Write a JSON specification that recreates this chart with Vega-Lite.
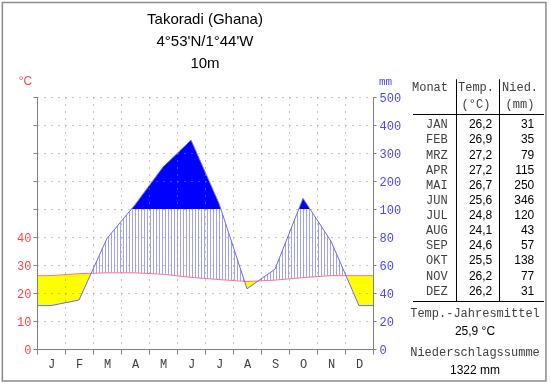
{
 "$schema": "https://vega.github.io/schema/vega-lite/v6.json",
 "width": 336,
 "height": 252,
 "autosize": {"type": "none"},
 "padding": {"left": 37, "top": 97, "right": 177, "bottom": 35},
 "background": "white",
 "title": {"text": ["Takoradi (Ghana)", "4°53'N/1°44'W", "10m"], "font": "Liberation Sans", "fontSize": 15, "fontWeight": "normal", "lineHeight": 22, "anchor": "middle", "frame": "group", "offset": -69, "color": "#000000"},
 "datasets": {
  "clim": [
   {"Monat": "JAN", "m": 1, "t": 26.2, "p": 31},
   {"Monat": "FEB", "m": 2, "t": 26.9, "p": 35},
   {"Monat": "MRZ", "m": 3, "t": 27.2, "p": 79},
   {"Monat": "APR", "m": 4, "t": 27.2, "p": 115},
   {"Monat": "MAI", "m": 5, "t": 26.7, "p": 250},
   {"Monat": "JUN", "m": 6, "t": 25.6, "p": 346},
   {"Monat": "JUL", "m": 7, "t": 24.8, "p": 120},
   {"Monat": "AUG", "m": 8, "t": 24.1, "p": 43},
   {"Monat": "SEP", "m": 9, "t": 24.6, "p": 57},
   {"Monat": "OKT", "m": 10, "t": 25.5, "p": 138},
   {"Monat": "NOV", "m": 11, "t": 26.2, "p": 77},
   {"Monat": "DEZ", "m": 12, "t": 26.2, "p": 31}
  ]
 },
 "data": {"name": "clim"},
 "layer": [
  {
   "layer": [
    {
     "mark": {"type": "area", "fill": "white", "blend": "difference"},
     "encoding": {
      "x": {"field": "m", "type": "quantitative", "scale": {"domain": [0.5, 12.5], "nice": false, "zero": false},
            "axis": {"orient": "bottom", "values": [0.5, 1.5, 2.5, 3.5, 4.5, 5.5, 6.5, 7.5, 8.5, 9.5, 10.5, 11.5, 12.5], "tickCount": 40, "labelExpr": "datum.value < 12 ? ['J','F','M','A','M','J','J','A','S','O','N','D'][floor(datum.value)] : ''", "labelOffset": 14, "labelPadding": 4, "labelColor": "#404040", "labelFlush": false, "labelOverlap": false, "labelBound": false, "ticks": true, "tickSize": 5, "grid": true, "domain": true, "title": null, "zindex": 1}},
      "y": {"field": "t", "type": "quantitative", "scale": {"domain": [0, 90], "range": [252, 0], "nice": false, "zero": false},
            "axis": {"orient": "left", "values": [0, 10, 20, 30, 40, 50, 60, 70, 80, 90], "tickCount": 40, "labelExpr": "datum.value <= 40 ? datum.label : ''", "labelColor": "#ff4848", "tickSize": 4, "labelPadding": 2, "labelFlush": false, "labelOverlap": false, "grid": true, "title": "°C", "titleColor": "#ff4848", "titleFont": "Liberation Sans", "titleFontSize": 12, "titleAngle": 0, "titleX": -12, "titleY": -17, "titleAlign": "center", "titleBaseline": "middle", "zindex": 1}},
      "y2": {"datum": 0}
     }
    },
    {
     "transform": [{"filter": "datum.m == 1"}],
     "mark": {"type": "rect", "fill": "white", "blend": "difference"},
     "encoding": {"x": {"datum": 0.5}, "x2": {"datum": 1}, "y": {"field": "t", "type": "quantitative"}, "y2": {"datum": 0}}
    },
    {
     "transform": [{"filter": "datum.m == 12"}],
     "mark": {"type": "rect", "fill": "white", "blend": "difference"},
     "encoding": {"x": {"datum": 12}, "x2": {"datum": 12.5}, "y": {"field": "t", "type": "quantitative"}, "y2": {"datum": 0}}
    }
   ]
  },
  {
   "layer": [
    {
     "mark": {"type": "area", "fill": "white", "blend": "difference"},
     "encoding": {
      "x": {"field": "m", "type": "quantitative", "scale": {"domain": [0.5, 12.5], "nice": false, "zero": false}, "axis": null},
      "y": {"field": "p", "type": "quantitative", "scale": {"domain": [0, 100, 500], "range": [252, 112, 0], "nice": false, "zero": false},
            "axis": {"orient": "right", "values": [0, 20, 40, 60, 80, 100, 200, 300, 400, 500], "tickCount": 40, "labelColor": "#4848ff", "tickSize": 3, "labelPadding": 3, "labelFlush": false, "labelOverlap": false, "grid": false, "title": "mm", "titleColor": "#4848ff", "titleFont": "Liberation Mono", "titleFontSize": 11, "titleAngle": 0, "titleX": 12, "titleY": -16, "titleAlign": "center", "titleBaseline": "middle", "zindex": 1}},
      "y2": {"datum": 0}
     }
    },
    {
     "transform": [{"filter": "datum.m == 1"}],
     "mark": {"type": "rect", "fill": "white", "blend": "difference"},
     "encoding": {"x": {"datum": 0.5}, "x2": {"datum": 1}, "y": {"field": "p", "type": "quantitative"}, "y2": {"datum": 0}}
    },
    {
     "transform": [{"filter": "datum.m == 12"}],
     "mark": {"type": "rect", "fill": "white", "blend": "difference"},
     "encoding": {"x": {"datum": 12}, "x2": {"datum": 12.5}, "y": {"field": "p", "type": "quantitative"}, "y2": {"datum": 0}}
    },
    {
     "mark": {"type": "area", "fill": "#ffff00", "blend": "screen"},
     "encoding": {"x": {"field": "m", "type": "quantitative"}, "y": {"field": "p", "type": "quantitative"}, "y2": {"datum": 500}}
    },
    {
     "transform": [{"filter": "datum.m == 1"}],
     "mark": {"type": "rect", "fill": "#ffff00", "blend": "screen"},
     "encoding": {"x": {"datum": 0.5}, "x2": {"datum": 1}, "y": {"field": "p", "type": "quantitative"}, "y2": {"datum": 500}}
    },
    {
     "transform": [{"filter": "datum.m == 12"}],
     "mark": {"type": "rect", "fill": "#ffff00", "blend": "screen"},
     "encoding": {"x": {"datum": 12}, "x2": {"datum": 12.5}, "y": {"field": "p", "type": "quantitative"}, "y2": {"datum": 500}}
    },
    {
     "mark": {"type": "area", "fill": "#0000ff", "blend": "screen"},
     "encoding": {"x": {"field": "m", "type": "quantitative"}, "y": {"field": "p", "type": "quantitative"}, "y2": {"datum": 0}}
    },
    {
     "transform": [{"filter": "datum.m == 1"}],
     "mark": {"type": "rect", "fill": "#0000ff", "blend": "screen"},
     "encoding": {"x": {"datum": 0.5}, "x2": {"datum": 1}, "y": {"field": "p", "type": "quantitative"}, "y2": {"datum": 0}}
    },
    {
     "transform": [{"filter": "datum.m == 12"}],
     "mark": {"type": "rect", "fill": "#0000ff", "blend": "screen"},
     "encoding": {"x": {"datum": 12}, "x2": {"datum": 12.5}, "y": {"field": "p", "type": "quantitative"}, "y2": {"datum": 0}}
    },
    {
     "transform": [{"filter": "datum.m == 1"}],
     "mark": {"type": "rect", "fill": "#a0a000", "blend": "screen"},
     "encoding": {"x": {"datum": 0.5}, "x2": {"datum": 12.5}, "y": {"datum": 0}, "y2": {"datum": 100}}
    },
    {
     "transform": [{"filter": "datum.m == 1"}],
     "mark": {"type": "rule", "stroke": "#ffff00", "strokeWidth": 140, "strokeDash": [2, 1], "strokeCap": "butt", "blend": "screen"},
     "encoding": {"x": {"datum": 0.5}, "x2": {"datum": 12.5}, "y": {"datum": 50}}
    }
   ]
  },
  {
   "layer": [
    {
     "mark": {"type": "line", "color": "#ff7878", "strokeWidth": 1},
     "encoding": {
      "x": {"field": "m", "type": "quantitative", "scale": {"domain": [0.5, 12.5], "nice": false, "zero": false}, "axis": null},
      "y": {"field": "t", "type": "quantitative", "scale": {"domain": [0, 90], "range": [252, 0], "nice": false, "zero": false}, "axis": null}
     }
    },
    {
     "transform": [{"filter": "datum.m == 1"}],
     "mark": {"type": "rule", "color": "#ff7878", "strokeWidth": 1},
     "encoding": {"x": {"datum": 0.5}, "x2": {"datum": 1}, "y": {"field": "t", "type": "quantitative"}}
    },
    {
     "transform": [{"filter": "datum.m == 12"}],
     "mark": {"type": "rule", "color": "#ff7878", "strokeWidth": 1},
     "encoding": {"x": {"datum": 12}, "x2": {"datum": 12.5}, "y": {"field": "t", "type": "quantitative"}}
    }
   ]
  },
  {
   "layer": [
    {
     "mark": {"type": "line", "color": "#6868ff", "strokeWidth": 1},
     "encoding": {
      "x": {"field": "m", "type": "quantitative", "scale": {"domain": [0.5, 12.5], "nice": false, "zero": false}, "axis": null},
      "y": {"field": "p", "type": "quantitative", "scale": {"domain": [0, 100, 500], "range": [252, 112, 0], "nice": false, "zero": false}, "axis": null}
     }
    },
    {
     "transform": [{"filter": "datum.m == 1"}],
     "mark": {"type": "rule", "color": "#6868ff", "strokeWidth": 1},
     "encoding": {"x": {"datum": 0.5}, "x2": {"datum": 1}, "y": {"field": "p", "type": "quantitative"}}
    },
    {
     "transform": [{"filter": "datum.m == 12"}],
     "mark": {"type": "rule", "color": "#6868ff", "strokeWidth": 1},
     "encoding": {"x": {"datum": 12}, "x2": {"datum": 12.5}, "y": {"field": "p", "type": "quantitative"}}
    }
   ]
  },
  {
   "layer": [
    {
     "mark": {"type": "text", "align": "right", "baseline": "middle", "font": "Liberation Mono", "fontSize": 12, "color": "#404040"},
     "encoding": {
      "x": {"datum": 0.807, "type": "quantitative", "scale": {"domain": [0, 1, 2, 3], "range": [376, 419, 462, 508], "nice": false, "zero": false}, "axis": null},
      "y": {"field": "m", "type": "quantitative", "scale": {"domain": [1, 12], "range": [27.3, 193.7], "nice": false, "zero": false}, "axis": null},
      "text": {"field": "Monat"}
     }
    },
    {
     "mark": {"type": "text", "align": "right", "baseline": "middle", "font": "Liberation Sans", "fontSize": 12, "color": "#000000"},
     "encoding": {"x": {"datum": 1.844}, "y": {"field": "m", "type": "quantitative"}, "text": {"field": "t", "type": "quantitative", "format": ".1f"}}
    },
    {
     "mark": {"type": "text", "align": "right", "baseline": "middle", "font": "Liberation Sans", "fontSize": 12, "color": "#000000"},
     "encoding": {"x": {"datum": 2.767}, "y": {"field": "m", "type": "quantitative"}, "text": {"field": "p", "type": "quantitative", "format": "d"}}
    },
    {
     "transform": [{"filter": "datum.m == 1"}],
     "mark": {"type": "rule", "color": "#000000", "strokeWidth": 1},
     "encoding": {"x": {"datum": 1.0116}, "y": {"datum": -1.975}, "y2": {"datum": 12.714}}
    },
    {
     "transform": [{"filter": "datum.m == 1"}],
     "mark": {"type": "rule", "color": "#000000", "strokeWidth": 1},
     "encoding": {"x": {"datum": 2.0109}, "y": {"datum": -1.975}, "y2": {"datum": 12.714}}
    },
    {
     "transform": [{"filter": "datum.m == 1"}],
     "mark": {"type": "rule", "color": "#000000", "strokeWidth": 1},
     "encoding": {"x": {"datum": 0}, "x2": {"datum": 2.978}, "y": {"datum": 0.352}}
    },
    {
     "transform": [{"filter": "datum.m == 1"}],
     "mark": {"type": "rule", "color": "#000000", "strokeWidth": 1},
     "encoding": {"x": {"datum": 0}, "x2": {"datum": 2.978}, "y": {"datum": 12.714}}
    },
    {
     "transform": [{"filter": "datum.m == 1"}],
     "mark": {"type": "text", "text": "Monat", "align": "center", "baseline": "middle", "font": "Liberation Mono", "fontSize": 12, "color": "#404040"},
     "encoding": {"x": {"datum": 0.395}, "y": {"datum": -1.433}}
    },
    {
     "transform": [{"filter": "datum.m == 1"}],
     "mark": {"type": "text", "text": "Temp.", "align": "center", "baseline": "middle", "font": "Liberation Mono", "fontSize": 12, "color": "#404040"},
     "encoding": {"x": {"datum": 1.465}, "y": {"datum": -1.433}}
    },
    {
     "transform": [{"filter": "datum.m == 1"}],
     "mark": {"type": "text", "text": "Nied.", "align": "center", "baseline": "middle", "font": "Liberation Mono", "fontSize": 12, "color": "#404040"},
     "encoding": {"x": {"datum": 2.457}, "y": {"datum": -1.433}}
    },
    {
     "transform": [{"filter": "datum.m == 1"}],
     "mark": {"type": "text", "text": "(°C)", "align": "center", "baseline": "middle", "font": "Liberation Mono", "fontSize": 12, "color": "#404040"},
     "encoding": {"x": {"datum": 1.465}, "y": {"datum": -0.342}}
    },
    {
     "transform": [{"filter": "datum.m == 1"}],
     "mark": {"type": "text", "text": "(mm)", "align": "center", "baseline": "middle", "font": "Liberation Mono", "fontSize": 12, "color": "#404040"},
     "encoding": {"x": {"datum": 2.457}, "y": {"datum": -0.342}}
    },
    {
     "transform": [{"filter": "datum.m == 1"}],
     "mark": {"type": "text", "text": "Temp.-Jahresmittel", "align": "center", "baseline": "middle", "font": "Liberation Mono", "fontSize": 12, "color": "#404040"},
     "encoding": {"x": {"datum": 1.442}, "y": {"datum": 13.474}}
    },
    {
     "transform": [{"filter": "datum.m == 1"}],
     "mark": {"type": "text", "text": "25,9 °C", "align": "center", "baseline": "middle", "font": "Liberation Sans", "fontSize": 12, "color": "#000000"},
     "encoding": {"x": {"datum": 1.442}, "y": {"datum": 14.664}}
    },
    {
     "transform": [{"filter": "datum.m == 1"}],
     "mark": {"type": "text", "text": "Niederschlagssumme", "align": "center", "baseline": "middle", "font": "Liberation Mono", "fontSize": 12, "color": "#404040"},
     "encoding": {"x": {"datum": 1.442}, "y": {"datum": 16.085}}
    },
    {
     "transform": [{"filter": "datum.m == 1"}],
     "mark": {"type": "text", "text": "1322 mm", "align": "center", "baseline": "middle", "font": "Liberation Sans", "fontSize": 12, "color": "#000000"},
     "encoding": {"x": {"datum": 1.442}, "y": {"datum": 17.275}}
    },
    {
     "transform": [{"filter": "datum.m == 1"}],
     "mark": {"type": "rect", "filled": false, "stroke": "#8a8a8a", "strokeWidth": 1.5},
     "encoding": {"x": {"datum": -9.55}, "x2": {"datum": 3.02}, "y": {"datum": -7.05}, "y2": {"datum": 17.97}}
    }
   ]
  }
 ],
 "resolve": {"scale": {"x": "independent", "y": "independent"}, "axis": {"x": "independent", "y": "independent"}},
 "config": {
  "font": "Liberation Sans",
  "view": {"fill": "white", "stroke": null},
  "locale": {"number": {"decimal": ",", "thousands": ".", "grouping": [3], "currency": ["", " €"]}},
  "axis": {"labelFont": "Liberation Mono", "labelFontSize": 12, "domainColor": "#808080", "tickColor": "#808080", "gridColor": "#8c8c8c", "gridDash": [1, 6], "gridOpacity": 1, "domainWidth": 1, "tickWidth": 1, "titleFontWeight": "normal"}
 }
}
